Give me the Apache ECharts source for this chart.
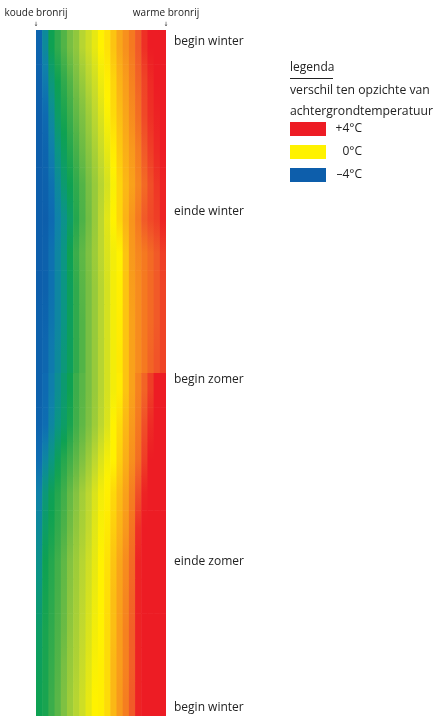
<!DOCTYPE html>
<html>
<head>
<meta charset="utf-8">
<script src="https://cdn.jsdelivr.net/npm/echarts@6/dist/echarts.min.js"></script>
<style>
html, body { margin: 0; padding: 0; background: #fff; }
#chart { width: 435px; height: 716px; }
</style>
</head>
<body>
<div id="chart"></div>
<script>
// 21 kolommen van koude naar warme bronrij
const columns = ['0','1','2','3','4','5','6','7','8','9','10','11','12','13','14','15','16','17','18','19','20']
// temperatuurverschil (°C) per tijdstap (boven -> onder), per kolom
const profiles = [
	[-3.8,-2.8,-2.0,-1.7,-1.4,-1.1,-0.9,-0.6,-0.4,-0.2,0,0.3,0.8,1.4,1.9,2.4,3.0,3.7,4,4,4],
	[-3.9,-3.2,-2.4,-2.0,-1.7,-1.4,-1.1,-0.85,-0.6,-0.4,-0.15,0.05,0.5,1.1,1.6,2.2,2.8,3.4,3.8,4,4],
	[-4,-3.6,-2.8,-2.2,-1.9,-1.6,-1.3,-1.05,-0.8,-0.55,-0.3,-0.05,0.4,0.9,1.4,2.0,2.6,3.3,3.7,3.9,4],
	[-4,-3.8,-3.1,-2.5,-2.1,-1.8,-1.5,-1.2,-0.95,-0.7,-0.45,-0.2,0.1,0.7,1.2,1.7,2.3,3.0,3.5,3.8,4],
	[-4,-3.9,-3.4,-2.8,-2.3,-2.0,-1.7,-1.4,-1.1,-0.85,-0.6,-0.35,-0.05,0.5,1.0,1.5,2.1,2.7,3.2,3.6,3.9],
	[-4,-4,-3.6,-3.0,-2.6,-2.2,-1.8,-1.45,-1.15,-0.85,-0.55,-0.25,0,0.5,1.1,1.8,2.4,3.0,3.3,3.5,3.9],
	[-4,-3.9,-3.4,-2.9,-2.5,-2.0,-1.6,-1.3,-1.05,-0.8,-0.55,-0.3,-0.1,0,0.8,1.7,2.1,2.4,2.7,3.0,3.5],
	[-4,-3.9,-3.4,-2.9,-2.5,-2.1,-1.7,-1.35,-1.1,-0.85,-0.6,-0.35,-0.1,0.05,0.8,1.6,2.0,2.4,2.7,3.0,3.4],
	[-3.9,-3.8,-3.3,-2.9,-2.5,-2.1,-1.7,-1.4,-1.1,-0.85,-0.6,-0.35,-0.1,0.1,0.8,1.5,2.0,2.4,2.7,3.0,3.4],
	[-3.9,-3.7,-3.2,-2.8,-2.4,-2.1,-1.7,-1.4,-1.1,-0.85,-0.6,-0.35,-0.1,0.15,0.8,1.5,2.0,2.4,2.8,3.1,3.4],
	[-3.9,-3.6,-3.1,-2.7,-2.3,-2.0,-1.6,-1.35,-1.1,-0.85,-0.6,-0.35,-0.1,0.1,0.8,1.5,2.2,2.8,3.5,4,4],
	[-3.8,-3.5,-2.9,-2.5,-2.2,-1.9,-1.55,-1.3,-1.05,-0.8,-0.55,-0.3,0,0.4,1.0,1.7,2.4,3.2,3.8,4,4],
	[-3.5,-2.9,-2.5,-2.1,-1.8,-1.55,-1.3,-1.05,-0.8,-0.55,-0.3,-0.1,0,0.6,1.2,1.9,2.6,3.5,4,4,4],
	[-3.0,-2.4,-2.05,-1.8,-1.55,-1.25,-1.0,-0.75,-0.55,-0.3,-0.1,0.05,0.45,0.95,1.5,2.3,3.2,3.9,4,4,4],
	[-2.8,-2.2,-1.95,-1.7,-1.45,-1.15,-0.9,-0.7,-0.5,-0.25,-0.05,0.15,0.6,1.1,1.7,2.5,3.7,4,4,4,4],
	[-2.6,-2.0,-1.8,-1.55,-1.3,-1.0,-0.8,-0.6,-0.4,-0.2,0,0.3,0.8,1.4,2.0,2.7,3.9,4,4,4,4],
	[-2.4,-1.95,-1.75,-1.5,-1.25,-0.95,-0.75,-0.55,-0.35,-0.15,0,0.35,0.9,1.5,2.1,2.8,3.9,4,4,4,4],
	[-2.2,-1.9,-1.7,-1.45,-1.2,-0.9,-0.7,-0.5,-0.3,-0.1,0,0.4,0.9,1.6,2.2,2.9,3.9,4,4,4,4],
	[-2.1,-1.9,-1.65,-1.4,-1.1,-0.85,-0.65,-0.45,-0.25,-0.05,0.05,0.4,1.0,1.6,2.2,2.9,3.9,4,4,4,4],
	[-2.0,-1.9,-1.6,-1.35,-1.05,-0.8,-0.6,-0.4,-0.2,0,0.05,0.4,1.0,1.7,2.3,3.0,3.9,4,4,4,4]
]
// rij waar de warme bron begint te laden (harde overgang, geen verloop)
const stepRows = [10]
// seizoenen op de tijdas (in rij-eenheden vanaf boven)
const phaseLabels = ['begin winter', 'einde winter', 'begin zomer', 'einde zomer', 'begin winter']
const phasePos = [0.35, 5.3, 10.2, 15.5, 19.75]
const wellLabels = ['koude bronrij', 'warme bronrij']
const legendValues = [4, 0, -4]
const legendLabels = ['+4°C', '0°C', '–4°C']

const palette = ['#0d5eab','#0e6db2','#0f82a9','#0b9683','#0ea152','#46b049','#84c341','#c2d92e',
	'#fff200','#fdd50b','#fbb815','#f9a11a','#f78c1e','#f47421','#f15a28','#ef3e26','#ed1c24']

const rows = profiles.map((p, i) => String(i))
const cells = []
profiles.forEach((p, r) => {
	p.forEach((v, c) => {
		let prev = r > 0 && stepRows.indexOf(r) < 0 ? profiles[r - 1][c] : v
		let next = r < profiles.length - 1 && stepRows.indexOf(r + 1) < 0 ? profiles[r + 1][c] : v
		cells.push([c, r, v, prev, next])
	})
})

function colorOf(v) {
	return echarts.color.lerp((v + 4) / 8, palette)
}

function renderCell(params, api) {
	let c = api.value(0), r = api.value(1)
	let v = api.value(2), prev = api.value(3), next = api.value(4)
	let p = api.coord([c, r])
	let s = api.size([1, 1])
	return {
		type: 'rect',
		shape: { x: p[0] - s[0] / 2, y: p[1] - s[1] / 2, width: s[0] + 0.6, height: s[1] + 0.6 },
		style: {
			fill: new echarts.graphic.LinearGradient(0, 0, 0, 1, [
				{ offset: 0, color: colorOf((prev + v) / 2) },
				{ offset: 0.5, color: colorOf(v) },
				{ offset: 1, color: colorOf((v + next) / 2) }
			])
		}
	}
}

const font = '"Open Sans", sans-serif'
const legendGraphic = [
	{ type: 'text', left: 290, top: 62, style: { text: 'legenda', font: '12px ' + font, fill: '#222' } },
	{ type: 'rect', shape: { x: 290, y: 78, width: 43, height: 1 }, style: { fill: '#222' } },
	{ type: 'text', left: 290, top: 85, style: { text: 'verschil ten opzichte van', font: '12.2px ' + font, fill: '#222' } },
	{ type: 'text', left: 290, top: 106, style: { text: 'achtergrondtemperatuur', font: '12.2px ' + font, fill: '#222' } }
]
legendValues.forEach((v, i) => {
	const y = 122 + i * 23
	legendGraphic.push({ type: 'rect', shape: { x: 290, y: y, width: 36, height: 14 }, style: { fill: colorOf(v) } })
	legendGraphic.push({ type: 'text', x: 362, y: y + 7, style: { text: legendLabels[i], font: '12px ' + font, fill: '#222', align: 'right', verticalAlign: 'middle' } })
})

const chart = echarts.init(document.getElementById('chart'))
const option = {
	animation: false,
	grid: { left: 36, top: 30, width: 130, bottom: 0, containLabel: false },
	xAxis: [
		{ type: 'category', data: columns, show: false },
		{
			type: 'value', position: 'top', min: 0, max: columns.length,
			axisLine: { show: false }, axisTick: { show: false }, splitLine: { show: false },
			axisLabel: {
				customValues: [0, columns.length], margin: 2,
				formatter: (v) => '{t|' + (v === 0 ? wellLabels[0] : wellLabels[1]) + '}\n{a|↓}',
				rich: {
					t: { fontFamily: font, fontSize: 10, color: '#222', lineHeight: 14 },
					a: { fontFamily: 'DejaVu Sans', fontSize: 6, color: '#222', lineHeight: 8 }
				}
			}
		}
	],
	yAxis: [
		{ type: 'category', data: rows, inverse: true, show: false },
		{
			type: 'value', position: 'right', min: 0, max: rows.length, inverse: true,
			axisLine: { show: false }, axisTick: { show: false }, splitLine: { show: false },
			axisLabel: {
				customValues: phasePos, margin: 8,
				fontFamily: font, fontSize: 12, color: '#222',
				formatter: (v) => phaseLabels[phasePos.indexOf(v)]
			}
		}
	],
	graphic: legendGraphic,
	series: [{
		type: 'custom',
		renderItem: renderCell,
		data: cells,
		clip: true,
		silent: true
	}]
}
chart.setOption(option)
</script>
</body>
</html>
